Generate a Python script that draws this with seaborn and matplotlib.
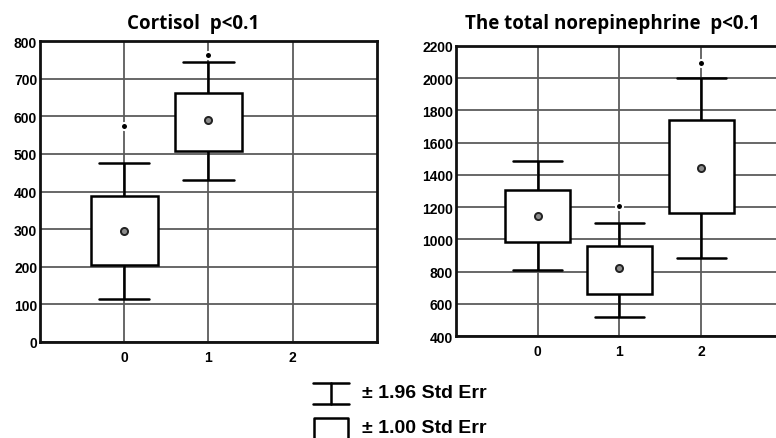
import numpy as np
import pandas as pd
import seaborn as sns
import matplotlib.pyplot as plt

# ---- values (mean +/- 1 SE box, +/- 1.96 SE whiskers) ----
groups = [0, 1, 2]

cort_groups = [0, 1]
cort_mean = [296, 590]
cort_box_lo = [205, 508]
cort_box_hi = [388, 662]
cort_whisk_lo = [113, 430]
cort_whisk_hi = [475, 743]
cort_out_x = [0, 1]
cort_out_y = [575, 762]

ne_groups = [0, 1, 2]
ne_mean = [1147, 820, 1442]
ne_box_lo = [982, 662, 1165]
ne_box_hi = [1308, 958, 1738]
ne_whisk_lo = [812, 516, 882]
ne_whisk_hi = [1484, 1100, 2000]
ne_out_x = [1, 2]
ne_out_y = [1205, 2092]

cort_ticks = list(range(0, 801, 100))
ne_ticks = list(range(400, 2201, 200))

sns.set_theme(style='white')
plt.rcParams['font.family'] = ['Liberation Sans', 'DejaVu Sans']
plt.rcParams['font.weight'] = 'bold'
plt.rcParams['text.color'] = 'black'
plt.rcParams['xtick.color'] = 'black'
plt.rcParams['ytick.color'] = 'black'


def long_table(g, wlo, blo, m, bhi, whi):
    # five values per group: quartiles of these give the box edges exactly
    rows = []
    for i, grp in enumerate(g):
        for v in (wlo[i], blo[i], m[i], bhi[i], whi[i]):
            rows.append({'group': grp, 'value': v})
    return pd.DataFrame(rows)


def draw_panel(ax, g, wlo, blo, m, bhi, whi, ox, oy, ticks, ylim, xmax):
    for t in ticks:
        ax.axhline(t, color='#5c5c5c', lw=1.3, zorder=0)
    for t in groups:
        ax.axvline(t, color='#5c5c5c', lw=1.3, zorder=0)

    df = long_table(g, wlo, blo, m, bhi, whi)
    sns.boxplot(data=df, x='group', y='value', order=groups, ax=ax,
                whis=(0, 100), width=0.8, capwidths=0.6,
                color='white', linecolor='black', linewidth=1.8,
                medianprops={'linewidth': 0}, showfliers=False,
                native_scale=True)
    sns.scatterplot(x=g, y=m, ax=ax, s=26, color='#8c8c8c',
                    edgecolor='#222222', linewidth=1.4, zorder=5, legend=False)
    sns.scatterplot(x=ox, y=oy, ax=ax, s=26, color='black',
                    edgecolor='white', linewidth=1.5, zorder=5, legend=False)

    ax.set_xlim(-1, xmax)
    ax.set_ylim(*ylim)
    ax.set_xticks(groups)
    ax.set_xticklabels([str(x) for x in groups])
    ax.set_yticks(ticks)
    ax.set_yticklabels([str(t) for t in ticks])
    ax.set_xlabel('')
    ax.set_ylabel('')
    ax.tick_params(axis='both', length=0, labelsize=10, labelcolor='black')
    ax.tick_params(axis='x', pad=6)
    ax.tick_params(axis='y', pad=2)
    for lab in ax.get_xticklabels() + ax.get_yticklabels():
        lab.set_fontweight('bold')
    for s in ax.spines.values():
        s.set_visible(True)
        s.set_color('#111111')
        s.set_linewidth(2.0)
    ax.grid(False)


fig = plt.figure(figsize=(7.76, 4.39), dpi=100)
ax1 = fig.add_axes([0.0515, 0.2187, 0.4343, 0.6856])
ax2 = fig.add_axes([0.5876, 0.2323, 0.4214, 0.6607])

draw_panel(ax1, cort_groups, cort_whisk_lo, cort_box_lo, cort_mean, cort_box_hi,
           cort_whisk_hi, cort_out_x, cort_out_y, cort_ticks, (0, 800), 3)
draw_panel(ax2, ne_groups, ne_whisk_lo, ne_box_lo, ne_mean, ne_box_hi,
           ne_whisk_hi, ne_out_x, ne_out_y, ne_ticks, (400, 2200), 3)

fig.text(0.249, 0.934, 'Cortisol  p<0.1', ha='center', va='baseline', color='black',
         fontsize=13.5, fontweight='bold', family=['Open Sans', 'DejaVu Sans'])
fig.text(0.789, 0.935, 'The total norepinephrine  p<0.1', ha='center', va='baseline',
         color='black', fontsize=13.5, fontweight='bold', family=['Open Sans', 'DejaVu Sans'])

# legend key drawn in its own little axes
lax = fig.add_axes([0, 0, 1, 1], facecolor='none')
lax.set_xlim(0, 776)
lax.set_ylim(439, 0)
lax.axis('off')
lax.plot([313, 349], [384, 384], color='black', lw=1.8)
lax.plot([313, 349], [405, 405], color='black', lw=1.8)
lax.plot([331, 331], [384, 405], color='black', lw=1.8)
lax.plot([314, 314, 348, 348], [445, 419, 419, 445], color='black', lw=1.8)
lax.text(362, 394, '± 1.96 Std Err', ha='left', va='center', fontsize=14, fontweight='bold')
lax.text(362, 429, '± 1.00 Std Err', ha='left', va='center', fontsize=14, fontweight='bold')

plt.savefig('out.png', dpi=100)
